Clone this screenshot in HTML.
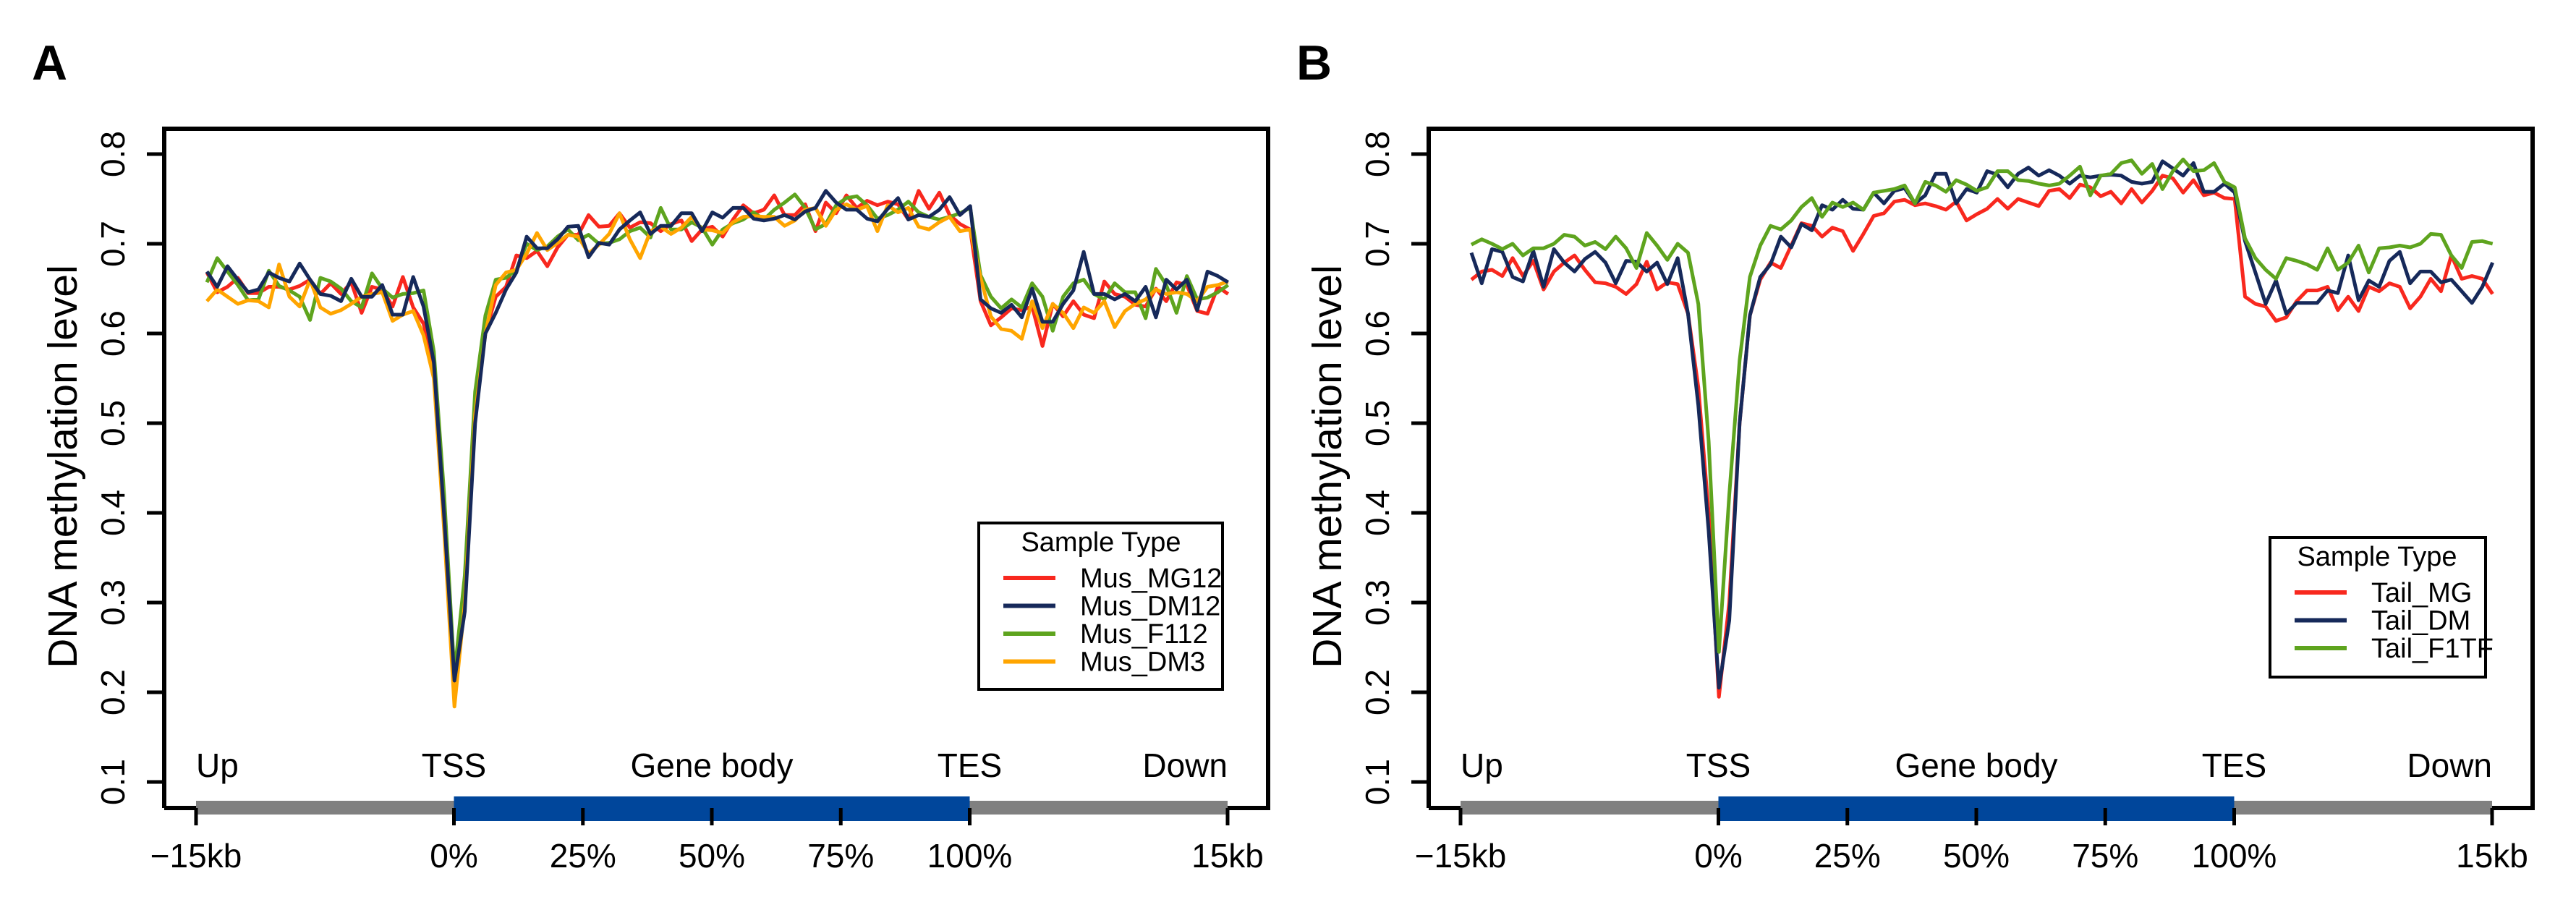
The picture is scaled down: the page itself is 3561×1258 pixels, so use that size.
<!DOCTYPE html>
<html><head><meta charset="utf-8">
<style>
html,body{margin:0;padding:0;background:#fff;}
svg{display:block;font-family:"Liberation Sans",Arial,sans-serif;}
</style></head>
<body>
<svg id="fig" width="3561" height="1258" viewBox="0 0 3561 1258" xmlns="http://www.w3.org/2000/svg"></svg>
<script>
// ---- data (index 0..99 bins: 25 upstream, 50 gene body, 25 downstream) ----
const yTicks = [0.1,0.2,0.3,0.4,0.5,0.6,0.7,0.8];
const xTickLabels = ["\u221215kb","0%","25%","50%","75%","100%","15kb"];
const xTickPos = [0,1,1.5,2,2.5,3,4];
const regionLabels = ["Up","TSS","Gene body","TES","Down"];

const seriesNamesA = ["Mus_MG12","Mus_DM12","Mus_F112","Mus_DM3"];
const seriesColorsA = ["#f8281e","#16295a","#5ea41e","#ffa500"];
const seriesNamesB = ["Tail_MG","Tail_DM","Tail_F1TF"];
const seriesColorsB = ["#f8281e","#16295a","#5ea41e"];

const musMG12 = [.668,.646,.652,.662,.645,.645,.652,.652,.649,.653,.660,.644,.656,.644,.657,.623,.652,.649,.630,.663,.629,.611,
 .56,.40,.21,.31,.52,.60,
 .641,.652,.687,.684,.692,.675,.696,.710,.710,.732,.719,.720,.734,.718,.724,.723,.714,.722,.726,.703,.716,.719,.708,.727,.743,.734,.738,.754,.732,.732,.744,.714,.746,.734,.754,.740,.748,.743,.747,.744,.727,.759,.739,.757,.732,.722,.716,
 .636,.609,.618,.628,.626,.630,.586,.633,.619,.636,.621,.617,.658,.644,.641,.632,.630,.650,.636,.657,.654,.625,.622,.652,.644];
const musDM12 = [.669,.652,.675,.660,.646,.649,.668,.662,.658,.678,.660,.644,.642,.636,.661,.641,.641,.654,.621,.621,.663,.630,
 .568,.396,.213,.290,.50,.60,
 .623,.649,.668,.708,.695,.695,.705,.719,.720,.685,.701,.699,.716,.726,.735,.711,.720,.720,.734,.734,.714,.735,.729,.740,.740,.728,.726,.728,.732,.727,.736,.740,.759,.746,.738,.738,.728,.725,.739,.751,.727,.732,.730,.738,.752,.732,.742,
 .638,.628,.623,.632,.618,.650,.613,.613,.633,.648,.691,.644,.644,.638,.644,.636,.652,.618,.660,.649,.660,.626,.669,.664,.657];
const musF112 = [.657,.684,.669,.654,.637,.638,.670,.653,.648,.641,.615,.662,.658,.650,.636,.629,.667,.650,.640,.644,.645,.648,
 .58,.42,.22,.33,.535,.62,
 .660,.662,.671,.700,.693,.697,.708,.716,.704,.710,.700,.701,.705,.714,.718,.707,.740,.716,.716,.724,.718,.699,.716,.723,.727,.735,.727,.738,.746,.755,.740,.716,.722,.743,.751,.753,.743,.728,.732,.738,.747,.735,.730,.727,.730,.734,.740,
 .665,.641,.628,.638,.629,.656,.641,.603,.641,.656,.660,.644,.638,.656,.646,.646,.617,.672,.654,.623,.664,.638,.640,.646,.654];
const musDM3 = [.636,.649,.641,.633,.637,.636,.629,.677,.641,.630,.660,.629,.622,.626,.633,.641,.644,.646,.614,.621,.625,.598,
 .55,.38,.184,.30,.51,.60,
 .654,.668,.671,.689,.712,.693,.701,.710,.708,.689,.699,.711,.734,.705,.684,.714,.719,.711,.718,.730,.716,.715,.712,.724,.730,.731,.730,.730,.720,.726,.738,.740,.720,.738,.744,.738,.742,.714,.743,.735,.740,.719,.716,.724,.730,.714,.716,
 .662,.619,.605,.603,.594,.636,.606,.633,.623,.606,.629,.623,.636,.607,.625,.633,.638,.649,.644,.646,.644,.636,.652,.654,.658];

const tailMG = [.660,.669,.671,.664,.684,.664,.681,.649,.669,.679,.687,.671,.657,.656,.652,.644,.655,.680,.649,.657,.655,.622,
 .54,.40,.195,.30,.50,.62,
 .660,.679,.673,.698,.723,.720,.708,.718,.714,.692,.711,.731,.734,.747,.749,.743,.745,.742,.738,.747,.726,.733,.739,.750,.739,.750,.746,.742,.759,.761,.751,.766,.763,.753,.758,.745,.761,.746,.759,.776,.773,.757,.771,.754,.757,.751,.750,
 .641,.633,.630,.614,.618,.636,.648,.648,.652,.626,.641,.625,.652,.647,.656,.652,.628,.641,.661,.647,.687,.661,.664,.661,.644];
const tailDM = [.690,.656,.694,.691,.663,.658,.692,.652,.694,.679,.669,.683,.691,.679,.656,.681,.680,.669,.679,.655,.684,.622,
 .52,.38,.205,.28,.50,.62,
 .663,.677,.708,.696,.722,.715,.743,.738,.749,.739,.738,.757,.745,.759,.762,.745,.754,.778,.778,.745,.761,.757,.781,.777,.763,.778,.785,.776,.782,.776,.767,.776,.774,.776,.777,.776,.769,.767,.769,.792,.784,.776,.790,.758,.758,.767,.757,
 .703,.668,.633,.659,.622,.634,.634,.634,.648,.645,.687,.637,.659,.652,.681,.691,.656,.669,.669,.657,.660,.647,.634,.652,.679];
const tailF1TF = [.699,.705,.700,.694,.700,.687,.695,.695,.700,.710,.708,.698,.702,.694,.708,.695,.673,.712,.698,.682,.700,.690,
 .633,.48,.245,.42,.57,.663,
 .698,.720,.716,.726,.741,.751,.730,.746,.741,.746,.738,.757,.759,.761,.765,.745,.769,.765,.758,.771,.766,.759,.763,.781,.781,.771,.770,.767,.765,.767,.776,.786,.754,.776,.778,.790,.793,.778,.789,.761,.781,.794,.781,.782,.790,.769,.763,
 .706,.684,.671,.661,.684,.681,.677,.671,.695,.671,.679,.698,.668,.695,.696,.698,.696,.700,.711,.710,.687,.673,.702,.703,.700];

const seriesA = [musMG12, musDM12, musF112, musDM3];
const seriesB = [tailMG, tailDM, tailF1TF];
const drawOrderA = [0,2,3,1];
const drawOrderB = [0,1,2];

// ---- rendering ----
const NS = "http://www.w3.org/2000/svg";
const svg = document.getElementById("fig");
function mk(tag, attrs, parent, text){
  const e = document.createElementNS(NS, tag);
  for (const k in attrs) e.setAttribute(k, attrs[k]);
  if (text !== undefined) e.textContent = text;
  (parent || svg).appendChild(e);
  return e;
}

function drawPanel(off, letter, series, names, colors, order, legend){
  const g = mk("g", {});
  
  
  const boxL = 227+off, boxR = 1753+off, boxT = 178, boxB = 1117;
  const x0 = 271+off, unit = 356.5;
  const yScale = v => 213 + (0.8 - v) * 1240;
  const xIdx = i => 286 + off + i * 14.26;
  const xUnit = u => x0 + u * unit;

  const pl = mk("text", {x: 44+off, y: 110, "font-size": 68, "font-weight": "bold"}, g, letter);
  
  

  // region bars
  const gb1 = mk("rect", {x: xUnit(0), y: 1107, width: unit, height: 19, fill: "#808080"}, g);
  
  
  const gb2 = mk("rect", {x: xUnit(3), y: 1107, width: unit, height: 19, fill: "#808080"}, g);
  
  
  const bb = mk("rect", {x: xUnit(1), y: 1101, width: unit*2, height: 34, fill: "#00469b"}, g);
  
  

  // series lines
  order.forEach(s => {
    const d = series[s].map((v,i) => (i? "L":"M") + xIdx(i).toFixed(1) + " " + yScale(v).toFixed(1)).join(" ");
    const p = mk("path", {d: d, fill: "none", stroke: colors[s], "stroke-width": 5, "stroke-linejoin": "round"}, g);
    
    
  });

  // box
  const bx = mk("path", {d: `M${boxL} ${boxB} L${boxL} ${boxT} L${boxR} ${boxT} L${boxR} ${boxB} L${xUnit(4)} ${boxB} M${xUnit(0)} ${boxB} L${boxL} ${boxB}`, fill: "none", stroke: "#000", "stroke-width": 6}, g);
  
  

  // y ticks
  yTicks.forEach(t => {
    const y = yScale(t);
    const tk = mk("line", {x1: boxL-24, x2: boxL, y1: y, y2: y, stroke: "#000", "stroke-width": 5}, g);
    
    
    const tl = mk("text", {x: 0, y: 0, "font-size": 46, "text-anchor": "middle", transform: `translate(${172+off},${y}) rotate(-90)`}, g, t.toFixed(1));
    
    
  });
  const yt = mk("text", {x: 0, y: 0, "font-size": 57, "text-anchor": "middle", transform: `translate(${106+off},645) rotate(-90)`}, g, "DNA methylation level");
  
  

  // x ticks
  xTickPos.forEach((u, k) => {
    const x = xUnit(u);
    const tk = mk("line", {x1: x, x2: x, y1: 1117, y2: 1141, stroke: "#000", "stroke-width": 5}, g);
    
    
    const tl = mk("text", {x: x, y: 1199, "font-size": 46, "text-anchor": "middle"}, g, xTickLabels[k]);
    
    
  });

  // region labels
  const rPos = [[0,"start"],[1,"middle"],[2,"middle"],[3,"middle"],[4,"end"]];
  regionLabels.forEach((lab, k) => {
    const t = mk("text", {x: xUnit(rPos[k][0]), y: 1074, "font-size": 46, "text-anchor": rPos[k][1]}, g, lab);
    
    
  });

  // legend
  const lg = mk("g", {}, g);
  
  
  const lb = mk("rect", {x: legend.x, y: legend.y, width: legend.w, height: legend.h, fill: "#fff", stroke: "#000", "stroke-width": 4}, lg);
  
  
  const lt = mk("text", {x: legend.tx, y: legend.y + 39, "font-size": 38, "text-anchor": "middle"}, lg, "Sample Type");
  
  
  names.forEach((n, k) => {
    const yy = legend.y + 76 + k * 38.5;
    const ln = mk("line", {x1: legend.lx, x2: legend.lx + 72, y1: yy, y2: yy, stroke: colors[k], "stroke-width": 6}, lg);
    
    
    const tx = mk("text", {x: legend.lx + 106, y: yy + 13, "font-size": 38}, lg, n);
    
    
  });
}

drawPanel(0, "A", seriesA, seriesNamesA, seriesColorsA, drawOrderA,
  {x: 1353, y: 723, w: 337, h: 230, tx: 1522, lx: 1387});
drawPanel(1748, "B", seriesB, seriesNamesB, seriesColorsB, drawOrderB,
  {x: 3138, y: 743, w: 298, h: 193, tx: 3286, lx: 3172});
</script>
</body></html>
